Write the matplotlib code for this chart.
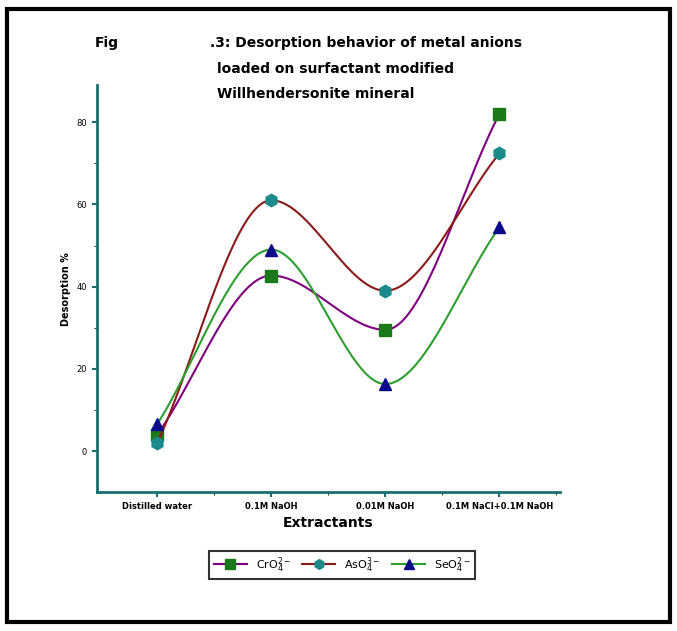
import numpy as np
import matplotlib.pyplot as plt
from matplotlib.patches import Rectangle

categories = ['Distilled water', '0.1M NaOH', '0.01M NaOH', '0.1M NaCl+0.1M NaOH']
cr = [4, 42.7, 29.5, 82]
aso = [2, 61, 39, 72.4]
se = [6.6, 49, 16.3, 54.4]


def pchip(xk, yk, xs):
    # Fritsch-Carlson monotone cubic, smooth like the original curves
    xk = np.asarray(xk, float)
    yk = np.asarray(yk, float)
    h = np.diff(xk)
    d = np.diff(yk) / h
    m = np.zeros_like(yk)
    for i in range(1, len(yk) - 1):
        if d[i-1] * d[i] > 0:
            m[i] = 2 / (1 / d[i-1] + 1 / d[i])
    m[0] = d[0]
    m[-1] = d[-1]
    out = np.empty_like(xs)
    for j, xv in enumerate(xs):
        i = min(np.searchsorted(xk, xv) - 1, len(xk) - 2)
        i = max(i, 0)
        t = (xv - xk[i]) / h[i]
        h00 = 2*t**3 - 3*t**2 + 1
        h10 = t**3 - 2*t**2 + t
        h01 = -2*t**3 + 3*t**2
        h11 = t**3 - t**2
        out[j] = h00*yk[i] + h10*h[i]*m[i] + h01*yk[i+1] + h11*h[i]*m[i+1]
    return out


x = np.arange(1, 5)
fig = plt.figure(figsize=(6.77, 6.31), dpi=100)
ax = fig.add_axes([0.143, 0.22, 0.684, 0.645])

series = [
    (cr, '#800080', '#1a7a1a', 's', 'CrO$_4^{2-}$'),
    (aso, '#8b1a1a', '#1a8a8a', 'h', 'AsO$_4^{3-}$'),
    (se, '#2e9e2e', '#0a0a8a', '^', 'SeO$_4^{2-}$'),
]
xs = np.linspace(1, 4, 300)
for vals, lc, mc, mk, lab in series:
    ax.plot(xs, pchip(x, vals, xs), color=lc, lw=1.5)
    ax.plot(x, vals, ls='none', marker=mk, ms=9, color=mc)
    ax.plot([], [], color=lc, marker=mk, ms=7, mfc=mc, mec=mc, label=lab)

ax.set_xlim(0.47, 4.53)
ax.set_ylim(-10, 89)
ax.set_yticks([0, 20, 40, 60, 80])
ax.set_yticks([10, 30, 50, 70], minor=True)
ax.set_xticks(x)
ax.set_xticks([1.5, 2.5, 3.5, 4.5], minor=True)
ax.set_xticklabels(categories, fontsize=6, fontweight='bold')
ax.tick_params(axis='y', labelsize=6)
ax.tick_params(direction='out', color='#1a6e6e', width=1.5)
for s in ['top', 'right']:
    ax.spines[s].set_visible(False)
for s in ['left', 'bottom']:
    ax.spines[s].set_color('#1a6e6e')
    ax.spines[s].set_linewidth(2)
ax.set_xlabel('Extractants', fontsize=10, fontweight='bold')
ax.set_ylabel('Desorption %', fontsize=7, fontweight='bold')

fig.text(0.14, 0.925, 'Fig', fontsize=10, fontweight='bold')
fig.text(0.31, 0.925, '.3: Desorption behavior of metal anions', fontsize=10, fontweight='bold')
fig.text(0.32, 0.885, 'loaded on surfactant modified', fontsize=10, fontweight='bold')
fig.text(0.32, 0.845, 'Willhendersonite mineral', fontsize=10, fontweight='bold')

leg = ax.legend(loc='upper center', bbox_to_anchor=(0.53, -0.13), ncol=3, fontsize=8,
                frameon=True, fancybox=False, edgecolor='black', handlelength=3,
                columnspacing=1)
leg.get_frame().set_linewidth(1.5)

fig.patches.append(Rectangle((0.01, 0.015), 0.98, 0.97, transform=fig.transFigure,
                             fill=False, lw=3, edgecolor='black'))
fig.savefig('out.png', dpi=100)
